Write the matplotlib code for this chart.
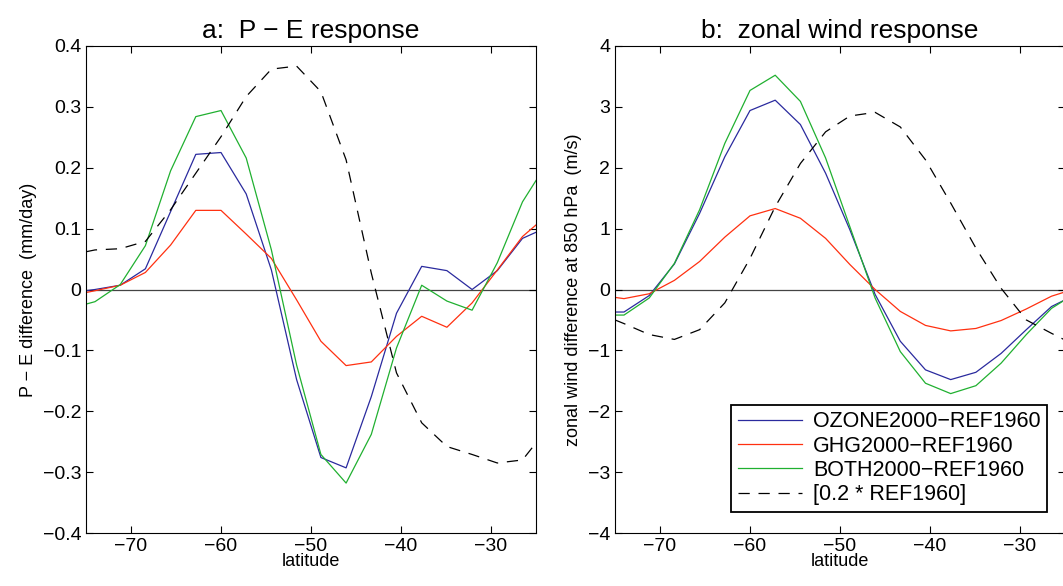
import matplotlib
matplotlib.use("Agg")
import matplotlib.pyplot as plt

plt.rcParams["font.family"] = ["Liberation Sans", "DejaVu Sans"]

lat = [-75.0, -74.0, -71.2, -68.4, -65.6, -62.8, -60.0, -57.2, -54.4, -51.6,
       -48.9, -46.1, -43.3, -40.5, -37.7, -34.9, -32.1, -29.3, -26.5, -25.0]

# panel a: P - E difference (mm/day)
pe_ozone = [-0.002, 0.0, 0.007, 0.034, 0.128, 0.222, 0.225, 0.157, 0.032, -0.148,
            -0.276, -0.293, -0.176, -0.039, 0.038, 0.031, 0.0, 0.031, 0.084, 0.094]
pe_ghg = [-0.005, -0.002, 0.007, 0.028, 0.073, 0.130, 0.130, 0.091, 0.051, -0.017,
          -0.085, -0.125, -0.119, -0.077, -0.044, -0.062, -0.022, 0.032, 0.087, 0.106]
pe_both = [-0.024, -0.020, 0.008, 0.072, 0.195, 0.284, 0.294, 0.216, 0.065, -0.124,
           -0.271, -0.318, -0.238, -0.096, 0.007, -0.019, -0.034, 0.044, 0.144, 0.179]
pe_ref = [0.062, 0.065, 0.067, 0.079, 0.131, 0.191, 0.251, 0.317, 0.362, 0.367,
          0.325, 0.213, 0.027, -0.137, -0.219, -0.258, -0.271, -0.285, -0.280, -0.252]

# panel b: zonal wind difference at 850 hPa (m/s)
u_ozone = [-0.37, -0.37, -0.10, 0.42, 1.25, 2.18, 2.94, 3.11, 2.71, 1.91,
           0.98, -0.08, -0.85, -1.32, -1.48, -1.36, -1.05, -0.66, -0.28, -0.17]
u_ghg = [-0.13, -0.15, -0.07, 0.15, 0.46, 0.86, 1.21, 1.33, 1.17, 0.84,
         0.41, 0.0, -0.36, -0.59, -0.68, -0.64, -0.51, -0.32, -0.11, -0.04]
u_both = [-0.42, -0.42, -0.14, 0.43, 1.31, 2.40, 3.27, 3.52, 3.09, 2.16,
          1.03, -0.14, -1.02, -1.54, -1.71, -1.58, -1.21, -0.74, -0.31, -0.17]
u_ref = [-0.50, -0.56, -0.74, -0.82, -0.66, -0.22, 0.51, 1.36, 2.07, 2.59,
         2.85, 2.91, 2.67, 2.13, 1.42, 0.68, 0.02, -0.50, -0.72, -0.83]

labels = ["OZONE2000\u2212REF1960", "GHG2000\u2212REF1960",
          "BOTH2000\u2212REF1960", "[0.2 * REF1960]"]
colors = ["#2a2a9e", "#ff3010", "#20b030", "black"]

fig = plt.figure(figsize=(10.63, 5.86), dpi=100)
ax1 = fig.add_axes([86 / 1063, 1 - 533 / 586, 450 / 1063, 487 / 586])
ax2 = fig.add_axes([615 / 1063, 1 - 533 / 586, 450 / 1063, 487 / 586])


def draw(ax, series, ylim, yticks):
    for (vals, c, lab) in zip(series, colors, labels):
        ls = (0, (9, 7)) if c == "black" else "-"
        ax.plot(lat, vals, color=c, linewidth=0.9, linestyle=ls, label=lab)
    ax.axhline(0, color="#444444", linewidth=0.9, zorder=0)
    ax.set_xlim(-75, -25)
    ax.set_ylim(*ylim)
    ax.set_xticks([-70, -60, -50, -40, -30])
    ax.set_xticklabels(["\u221270", "\u221260", "\u221250", "\u221240", "\u221230"])
    ax.set_yticks(yticks)
    ax.set_yticklabels([(f"{t:g}").replace("-", "\u2212") for t in yticks])
    ax.tick_params(direction="in", top=True, right=True, labelsize=14, length=5)
    ax.set_xlabel("latitude", fontsize=13, labelpad=-1)


draw(ax1, [pe_ozone, pe_ghg, pe_both, pe_ref], (-0.4, 0.4),
     [-0.4, -0.3, -0.2, -0.1, 0, 0.1, 0.2, 0.3, 0.4])
ax1.set_yticklabels(["\u22120.4", "\u22120.3", "\u22120.2", "\u22120.1", "0",
                     "0.1", "0.2", "0.3", "0.4"])
ax1.set_ylabel("P \u2212 E difference  (mm/day)", fontsize=13)
ax1.set_title("a:  P \u2212 E response", fontsize=19, pad=6)

draw(ax2, [u_ozone, u_ghg, u_both, u_ref], (-4, 4), list(range(-4, 5)))
ax2.set_ylabel("zonal wind difference at 850 hPa  (m/s)", fontsize=13)
ax2.set_title("b:  zonal wind response", fontsize=19, pad=6)
leg = ax2.legend(loc="lower right", bbox_to_anchor=(0.984, 0.022), fontsize=15.5,
                 fancybox=False, framealpha=1, edgecolor="black",
                 handlelength=3.0, handletextpad=0.5, borderpad=0.3,
                 labelspacing=0.15)
leg.get_frame().set_linewidth(1.3)

fig.savefig("out.png", dpi=100)
